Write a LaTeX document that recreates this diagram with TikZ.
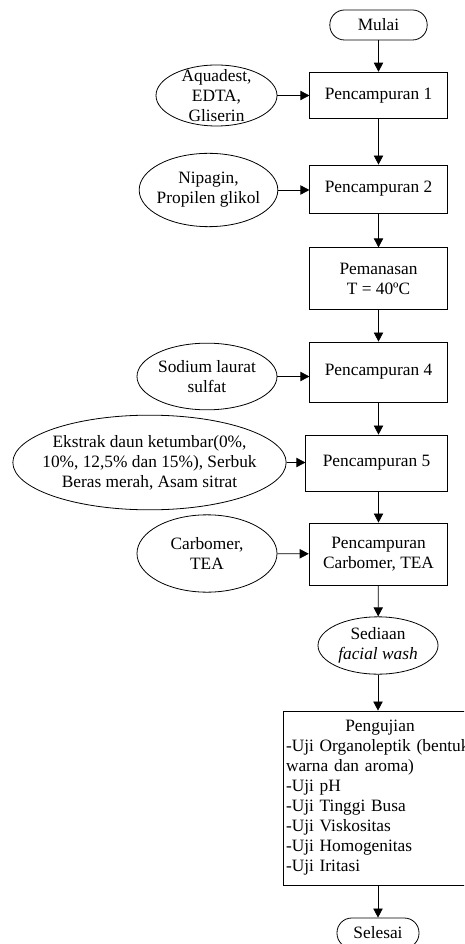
\documentclass[tikz,border=0pt]{standalone}
\usepackage{fontspec}
\setmainfont{Liberation Serif}
\usetikzlibrary{shapes.geometric,arrows.meta}

\begin{document}
\begin{tikzpicture}[
        x=0.75pt, y=-0.75pt,
        every node/.style={
            draw=black,
            fill=white,
            line width=0.6pt,
            inner sep=0pt,
            font=\fontsize{13}{15}\selectfont,
            align=center
        },
        proses/.style={rectangle, minimum width=103pt},
        bahan/.style={ellipse},
        ujung/.style={rectangle, rounded corners=11pt, minimum height=22.5pt},
        panah/.style={line width=0.6pt, -{Triangle[length=6.8pt,width=7pt]}}
    ]

    \clip (0,0) rectangle (464,944);

    % Proses
    \node[ujung, minimum width=73pt] (mulai) at (378.5,25) {Mulai};
    \node[proses, minimum height=35pt] (p1) at (378.5,95.5) {Pencampuran 1};
    \node[proses, minimum height=36pt] (p2) at (378.5,189) {Pencampuran 2};
    \node[proses, minimum height=46pt] (pem) at (378.5,278.5) {Pemanasan\\T = 40ºC};
    \node[proses, minimum height=45pt] (p4) at (378.5,372) {Pencampuran 4};
    \node[proses, minimum width=106pt, minimum height=42pt] (p5) at (376.5,463) {Pencampuran 5};
    \node[proses, minimum width=104pt, minimum height=46.5pt] (pc) at (378.5,554) {Pencampuran\\Carbomer, TEA};
    \node[bahan, minimum width=90pt, minimum height=43pt,
        label={[draw=none, fill=none, align=center]center:Sediaan\\\textit{facial wash}}] (sed) at (378,645.5) {};
    \node[rectangle, minimum width=145.5pt, minimum height=130.5pt, inner sep=2.2pt,
        text width=141pt, align=left] (uji) at (380,798)
        {\centering Pengujian\par\raggedright
        -Uji Organoleptik (bentuk\\warna dan aroma)\\-Uji pH\\-Uji Tinggi Busa\\
        -Uji Viskositas\\-Uji Homogenitas\\-Uji Iritasi};
    \node[ujung, minimum width=61.5pt] (selesai) at (378,933) {Selesai};

    % Bahan
    \node[bahan, minimum width=90.75pt, minimum height=45.75pt,
        label={[draw=none, fill=none, align=center]center:Aquadest,\\EDTA,\\Gliserin}] (b1) at (216.5,95.5) {};
    \node[bahan, minimum width=104pt, minimum height=55pt,
        label={[draw=none, fill=none, align=center]center:Nipagin,\\Propilen glikol}] (b2) at (208.5,190) {};
    \node[bahan, minimum width=105pt, minimum height=50pt,
        label={[draw=none, fill=none, align=center]center:Sodium laurat\\sulfat}] (b4) at (207,376.5) {};
    \node[bahan, minimum width=205pt, minimum height=71pt,
        label={[draw=none, fill=none, align=center]center:Ekstrak daun ketumbar(0\%,\\10\%, 12,5\% dan 15\%), Serbuk\\Beras merah, Asam sitrat}] (b5) at (149.5,462.5) {};
    \node[bahan, minimum width=105pt, minimum height=58pt,
        label={[draw=none, fill=none, align=center]center:Carbomer,\\TEA}] (bc) at (207,553.5) {};

    % Panah
    \draw[panah] (mulai) -- (p1);
    \draw[panah] (p1) -- (p2);
    \draw[panah] (p2) -- (pem);
    \draw[panah] (pem) -- (p4);
    \draw[panah] (p4.south) -- (p4.south |- p5.north);
    \draw[panah] (p5.south -| pc.north) -- (pc.north);
    \draw[panah] (pc) -- (sed);
    \draw[panah] (sed.south) -- (sed.south |- uji.north);
    \draw[panah] (uji.south -| selesai.north) -- (selesai.north);

    \draw[panah] (b1) -- (p1);
    \draw[panah] (b2.east) -- (b2.east -| p2.west);
    \draw[panah] (b4.east) -- (b4.east -| p4.west);
    \draw[panah] (b5.east) -- (b5.east -| p5.west);
    \draw[panah] (bc) -- (pc);

    \end{tikzpicture}
\end{document}
